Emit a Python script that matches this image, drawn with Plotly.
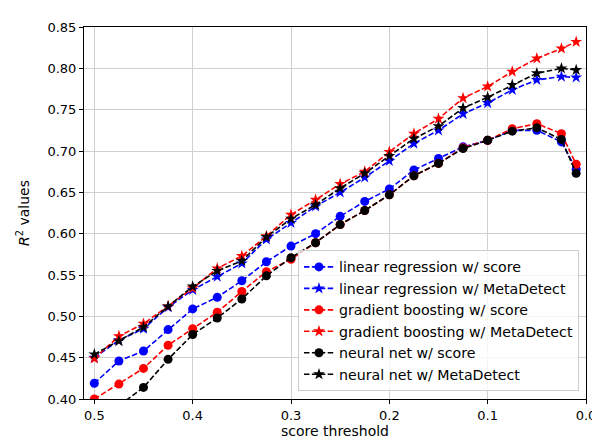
import plotly.graph_objects as go

thresholds = [0.5, 0.475, 0.45, 0.425, 0.4, 0.375, 0.35, 0.325, 0.3, 0.275, 0.25,
              0.225, 0.2, 0.175, 0.15, 0.125, 0.1, 0.075, 0.05, 0.025, 0.01]

lr_score = [0.419, 0.446, 0.458, 0.484, 0.509, 0.523, 0.543, 0.566, 0.585, 0.600, 0.621,
            0.639, 0.654, 0.677, 0.691, 0.705, 0.713, 0.725, 0.725, 0.711, 0.678]
lr_meta = [0.450, 0.471, 0.485, 0.511, 0.532, 0.548, 0.564, 0.593, 0.613, 0.633, 0.650,
           0.668, 0.688, 0.709, 0.725, 0.745, 0.758, 0.774, 0.786, 0.790, 0.789]
gb_score = [0.400, 0.418, 0.437, 0.465, 0.485, 0.505, 0.530, 0.554, 0.569, 0.589, 0.611,
            0.628, 0.647, 0.670, 0.685, 0.704, 0.713, 0.727, 0.733, 0.721, 0.684]
gb_meta = [0.449, 0.476, 0.491, 0.512, 0.534, 0.558, 0.573, 0.597, 0.623, 0.641, 0.660,
           0.675, 0.699, 0.721, 0.739, 0.764, 0.778, 0.796, 0.812, 0.824, 0.832]
nn_score = [0.370, 0.392, 0.414, 0.448, 0.478, 0.498, 0.521, 0.549, 0.571, 0.589, 0.611,
            0.628, 0.647, 0.670, 0.685, 0.703, 0.713, 0.724, 0.728, 0.714, 0.673]
nn_meta = [0.454, 0.470, 0.487, 0.512, 0.536, 0.555, 0.567, 0.596, 0.618, 0.635, 0.655,
           0.673, 0.694, 0.715, 0.730, 0.752, 0.765, 0.780, 0.794, 0.800, 0.798]

x_ticks = [0.5, 0.4, 0.3, 0.2, 0.1, 0.0]
y_ticks = [0.40, 0.45, 0.50, 0.55, 0.60, 0.65, 0.70, 0.75, 0.80, 0.85]

series = [
    ("linear regression w/ score", lr_score, "#0000ff", "circle", 9),
    ("linear regression w/ MetaDetect", lr_meta, "#0000ff", "star", 9),
    ("gradient boosting w/ score", gb_score, "#ff0000", "circle", 9),
    ("gradient boosting w/ MetaDetect", gb_meta, "#ff0000", "star", 9),
    ("neural net w/ score", nn_score, "#000000", "circle", 9),
    ("neural net w/ MetaDetect", nn_meta, "#000000", "star", 9),
]

fig = go.Figure()
for name, vals, color, sym, size in series:
    fig.add_trace(go.Scatter(
        x=thresholds, y=vals, name=name, mode="lines+markers",
        line=dict(color=color, width=1.6, dash="5.5px,2.4px"),
        marker=dict(color=color, symbol=sym, size=size, line=dict(width=0)),
        cliponaxis=True,
    ))

axis_common = dict(
    showline=True, linecolor="black", linewidth=1, mirror=True,
    ticks="outside", ticklen=4, tickcolor="black", tickwidth=1,
    showgrid=True, gridcolor="#d0d0d0", gridwidth=1, zeroline=False,
    tickfont=dict(family="DejaVu Sans", size=13, color="black"),
)

fig.update_layout(
    width=600, height=440,
    margin=dict(l=76, r=13, t=16, b=43),
    paper_bgcolor="white", plot_bgcolor="white",
    font=dict(family="DejaVu Sans", size=13, color="black"),
    xaxis=dict(range=[0.5105, 0.0], tickvals=x_ticks, tickformat=".1f",
               title=dict(text="score threshold", standoff=4,
                          font=dict(family="DejaVu Sans", size=14)),
               **axis_common),
    yaxis=dict(range=[0.40, 0.85], tickvals=y_ticks, tickformat=".2f",
               title=dict(text="<i>R</i><sup>2</sup> values", standoff=14,
                          font=dict(family="DejaVu Sans", size=14)),
               **axis_common),
    legend=dict(x=0.986, y=0.021, xanchor="right", yanchor="bottom",
                bgcolor="rgba(255,255,255,0.8)", bordercolor="#cccccc", borderwidth=1,
                font=dict(family="DejaVu Sans", size=14.2, color="black"),
                tracegroupgap=0, itemwidth=30),
    showlegend=True,
)

fig.write_html("out.html")
